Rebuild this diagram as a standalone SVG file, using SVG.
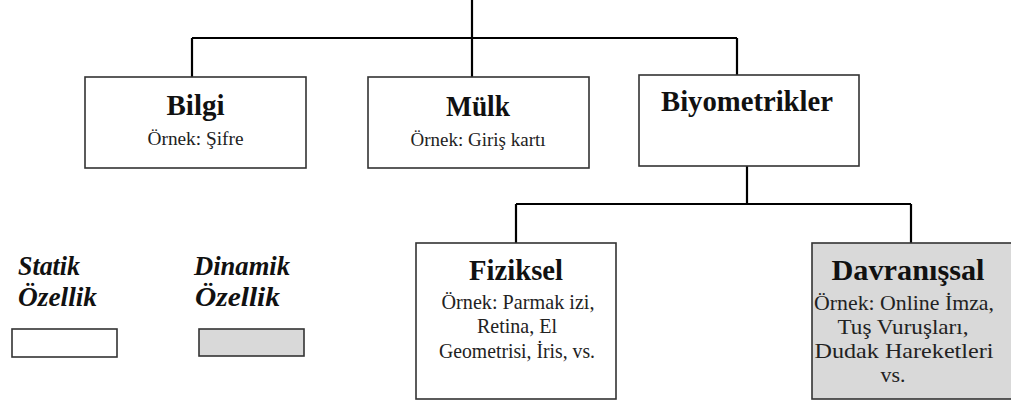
<svg xmlns="http://www.w3.org/2000/svg" width="1011" height="404" viewBox="0 0 1011 404">
<style>
.box{fill:#fff;stroke:#333;stroke-width:1.6}
.gray{fill:#d9d9d9}
.conn{stroke:#000;stroke-width:2.2;fill:none}
.t{font-family:"Liberation Serif","Times New Roman",serif;font-weight:bold;font-size:30px;fill:#111;text-anchor:middle}
.s{font-family:"Liberation Serif","Times New Roman",serif;font-size:19px;fill:#222;text-anchor:middle}
.s2{font-family:"Liberation Serif","Times New Roman",serif;font-size:21px;fill:#222;text-anchor:middle}
.lg{font-family:"Liberation Serif","Times New Roman",serif;font-weight:bold;font-style:italic;font-size:27px;fill:#111}
</style>
<rect width="1011" height="404" fill="#fff"/>
<g id="connectors">
<path class="conn" d="M472,0V38M192,38H737M192,38V77M472,38V77M737,38V75"/>
<path class="conn" d="M747,166V204M516,204H911M516,204V243M911,204V243"/>
</g>
<g id="bilgi">
<rect class="box" x="85" y="77" width="221" height="91"/>
<text class="t" x="195.5" y="115" textLength="58" lengthAdjust="spacingAndGlyphs">Bilgi</text>
<text class="s" x="195.5" y="145" textLength="96" lengthAdjust="spacingAndGlyphs">Örnek: Şifre</text>
</g>
<g id="mulk">
<rect class="box" x="368" y="77" width="221" height="91"/>
<text class="t" x="478" y="116" textLength="64" lengthAdjust="spacingAndGlyphs">Mülk</text>
<text class="s" x="478" y="146" textLength="135" lengthAdjust="spacingAndGlyphs">Örnek: Giriş kartı</text>
</g>
<g id="biyometrikler">
<rect class="box" x="639" y="75" width="220" height="91"/>
<text class="t" x="747" y="111" textLength="172" lengthAdjust="spacingAndGlyphs">Biyometrikler</text>
</g>
<g id="fiziksel">
<rect class="box" x="416" y="243" width="200" height="156"/>
<text class="t" x="516" y="280" textLength="94" lengthAdjust="spacingAndGlyphs">Fiziksel</text>
<text class="s2" x="518" y="309" textLength="153" lengthAdjust="spacingAndGlyphs">Örnek: Parmak izi,</text>
<text class="s2" x="517" y="333" textLength="80" lengthAdjust="spacingAndGlyphs">Retina, El</text>
<text class="s2" x="517" y="358" textLength="156" lengthAdjust="spacingAndGlyphs">Geometrisi, İris, vs.</text>
</g>
<g id="davranissal">
<rect class="box gray" x="812" y="243" width="205" height="156"/>
<text class="t" x="908" y="280" textLength="153" lengthAdjust="spacingAndGlyphs">Davranışsal</text>
<text class="s2" x="904" y="310" textLength="180" lengthAdjust="spacingAndGlyphs">Örnek: Online İmza,</text>
<text class="s2" x="903" y="334" textLength="131" lengthAdjust="spacingAndGlyphs">Tuş Vuruşları,</text>
<text class="s2" x="904" y="358" textLength="179" lengthAdjust="spacingAndGlyphs">Dudak Hareketleri</text>
<text class="s2" x="893" y="382" textLength="25" lengthAdjust="spacingAndGlyphs">vs.</text>
</g>
<g id="legend-statik">
<text class="lg" x="18" y="275" textLength="62" lengthAdjust="spacingAndGlyphs">Statik</text>
<text class="lg" x="18" y="306" textLength="79" lengthAdjust="spacingAndGlyphs">Özellik</text>
<rect class="box" x="12" y="329" width="105" height="28"/>
</g>
<g id="legend-dinamik">
<text class="lg" x="194" y="275" textLength="96" lengthAdjust="spacingAndGlyphs">Dinamik</text>
<text class="lg" x="195" y="306" textLength="85" lengthAdjust="spacingAndGlyphs">Özellik</text>
<rect class="box gray" x="199" y="329" width="105" height="27"/>
</g>
</svg>
